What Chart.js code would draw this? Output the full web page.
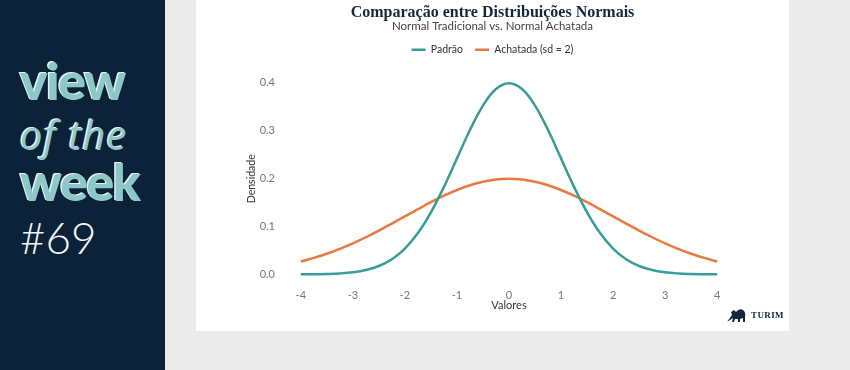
<!DOCTYPE html>
<html lang="pt">
<head>
<meta charset="utf-8">
<title>Comparação entre Distribuições Normais</title>
<script src="https://cdn.jsdelivr.net/npm/chart.js@4.4.1/dist/chart.umd.min.js"></script>
<style>
  html, body { margin: 0; padding: 0; }
  body { width: 850px; height: 370px; background: #ebebeb; position: relative; overflow: hidden; font-family: Lato, sans-serif; }
  .side { position: absolute; left: 0; top: 0; width: 165px; height: 370px; background: #0c2239; }
  .side div { position: absolute; left: 20px; line-height: 1; white-space: nowrap; }
  .big { font-family: Lato, sans-serif; font-weight: 900; font-size: 52px; letter-spacing: -1.5px; color: #8dc8c8; text-shadow: -1.5px -1px 0 #e4f2f2; }
  .mid { font-family: "Open Sans", sans-serif; font-style: italic; font-size: 40px; letter-spacing: 1px; color: #8dc8c8; text-shadow: -1.5px -1px 0 #e4f2f2; }
  .num { font-family: Lato, sans-serif; font-weight: 300; font-size: 44px; color: #f2f6f8; }
  .card { position: absolute; left: 196px; top: 0; width: 593px; height: 331px; background: #fff; }
  .card canvas { position: absolute; left: 0; top: 0; }
  .logo { position: absolute; left: 530px; top: 307px; display: flex; align-items: center; gap: 4px; }
  .logo span { font-family: "Liberation Serif", serif; font-weight: bold; font-size: 9px; letter-spacing: 0.4px; color: #12273d; }
</style>
</head>
<body>
<div class="side">
  <div class="big" style="top:54px">view</div>
  <div class="mid" style="top:115px">of the</div>
  <div class="big" style="top:155px">week</div>
  <div class="num" style="top:215px">#69</div>
</div>
<div class="card">
  <canvas id="chart" width="593" height="331"></canvas>
  <div class="logo">
    <svg width="21" height="16" viewBox="0 0 21 16">
      <path d="M1 15 L6 8 L5 5 L8 3 L10 5 Q13 1 17 3 Q20 5 19 10 L19 15 L17 15 L17 11 L14 12 L14 15 L12 15 L12 12 L9 12 L8 15 L6 15 L7 11 Z" fill="#12273d"/>
    </svg>
    <span>TURIM</span>
  </div>
</div>
<script>
// valores de x (passo 0.25) e densidades
const valores = [-4, -3.75, -3.5, -3.25, -3, -2.75, -2.5, -2.25, -2, -1.75, -1.5, -1.25, -1, -0.75, -0.5, -0.25,
  0, 0.25, 0.5, 0.75, 1, 1.25, 1.5, 1.75, 2, 2.25, 2.5, 2.75, 3, 3.25, 3.5, 3.75, 4];
const padrao = [0.0001, 0.0004, 0.0009, 0.0020, 0.0044, 0.0091, 0.0175, 0.0317, 0.0540, 0.0863, 0.1295, 0.1826, 0.2420, 0.3011, 0.3521, 0.3867,
  0.3989, 0.3867, 0.3521, 0.3011, 0.2420, 0.1826, 0.1295, 0.0863, 0.0540, 0.0317, 0.0175, 0.0091, 0.0044, 0.0020, 0.0009, 0.0004, 0.0001];
const achatada = [0.0270, 0.0344, 0.0431, 0.0533, 0.0648, 0.0775, 0.0913, 0.1061, 0.1210, 0.1360, 0.1506, 0.1641, 0.1760, 0.1859, 0.1933, 0.1979,
  0.1995, 0.1979, 0.1933, 0.1859, 0.1760, 0.1641, 0.1506, 0.1360, 0.1210, 0.1061, 0.0913, 0.0775, 0.0648, 0.0533, 0.0431, 0.0344, 0.0270];
const xTicks = [-4, -3, -2, -1, 0, 1, 2, 3, 4];
const yTicks = [0, 0.1, 0.2, 0.3, 0.4];
const yTickLabels = ['0.0', '0.1', '0.2', '0.3', '0.4'];

const TEAL = '#3a9c9a';
const ORANGE = '#e8793f';
const TICK_COLOR = '#777';
const TICK_FONT = { family: 'Lato', size: 11 };

// espaço extra abaixo da legenda
const legendGap = {
  id: 'legendGap',
  beforeLayout(chart) {
    const lg = chart.legend;
    if (lg && !lg._gap) {
      const fit = lg.fit;
      lg.fit = function () { fit.call(this); this.height += 8.5; };
      lg._gap = true;
    }
  }
};

new Chart(document.getElementById('chart'), {
  type: 'line',
  data: {
    datasets: [
      {
        label: 'Padrão',
        data: valores.map((x, i) => ({ x, y: padrao[i] })),
        borderColor: TEAL,
        backgroundColor: TEAL,
        borderWidth: 2.5,
        pointRadius: 0,
        tension: 0.4
      },
      {
        label: 'Achatada (sd = 2)',
        data: valores.map((x, i) => ({ x, y: achatada[i] })),
        borderColor: ORANGE,
        backgroundColor: ORANGE,
        borderWidth: 2.5,
        pointRadius: 0,
        tension: 0.4
      }
    ]
  },
  options: {
    responsive: false,
    animation: false,
    layout: { padding: { top: 0, left: 45, right: 45, bottom: 16 } },
    plugins: {
      title: {
        display: true,
        text: 'Comparação entre Distribuições Normais',
        color: '#14283c',
        font: { family: 'Liberation Serif', size: 16, weight: 'bold', lineHeight: 1 },
        padding: { top: 4.5, bottom: 0 }
      },
      subtitle: {
        display: true,
        text: 'Normal Tradicional vs. Normal Achatada',
        color: '#444',
        font: { family: 'Lato', size: 11.5, lineHeight: 1 },
        padding: { top: 0.5, bottom: 0 }
      },
      legend: {
        position: 'top',
        labels: {
          usePointStyle: true,
          pointStyle: 'line',
          pointStyleWidth: 14,
          boxHeight: 10,
          padding: 12,
          color: '#333',
          font: { family: 'Lato', size: 10.5 }
        }
      },
      tooltip: { enabled: false }
    },
    scales: {
      x: {
        type: 'linear',
        min: -4.4,
        max: 4.4,
        afterBuildTicks: s => { s.ticks = xTicks.map(v => ({ value: v })); },
        afterFit: s => { s.height = 31; },
        grid: { display: false, drawTicks: false },
        border: { display: false },
        ticks: { color: TICK_COLOR, font: TICK_FONT, padding: 5, autoSkip: false, maxRotation: 0 },
        title: { display: true, text: 'Valores', color: '#333', font: { family: 'Lato', size: 11 }, padding: { top: 0, bottom: 3 } }
      },
      y: {
        min: -0.02,
        max: 0.419,
        afterBuildTicks: s => { s.ticks = yTicks.map(v => ({ value: v })); },
        afterFit: s => { s.width = 39; },
        grid: { display: false, drawTicks: false },
        border: { display: false },
        ticks: { color: TICK_COLOR, font: TICK_FONT, padding: 5, callback: (v) => yTickLabels[yTicks.indexOf(v)] ?? '' },
        title: { display: true, text: 'Densidade', color: '#333', font: { family: 'Lato', size: 10.5 }, padding: { top: 4, bottom: 0 } }
      },
      y2: {
        position: 'right',
        display: true,
        afterFit: s => { s.width = 6; },
        grid: { display: false, drawTicks: false },
        border: { display: false },
        ticks: { display: false }
      }
    }
  },
  plugins: [legendGap]
});
</script>
</body>
</html>
